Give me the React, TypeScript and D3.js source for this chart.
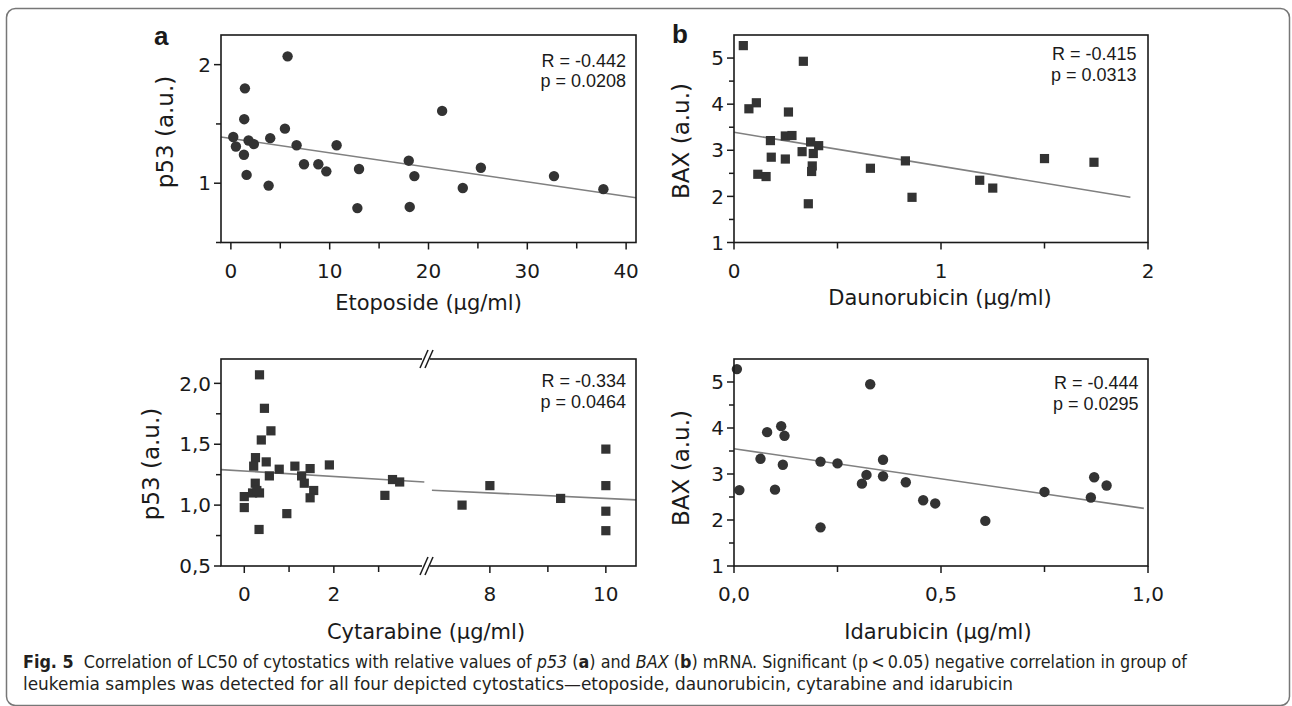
import React from 'react';
import * as d3 from 'd3';

// ---- data ----
// a: etoposide vs p53
const etoX = [5.74, 1.42, 1.35, 5.47, 0.24, 1.79, 3.98, 0.51, 2.33, 1.32, 6.65, 10.7, 1.59, 3.82, 7.4, 8.85, 9.66, 12.97, 12.8, 18.0, 18.57, 18.1, 21.38, 23.47, 25.3, 32.7, 37.7];
const etoP53 = [2.07, 1.8, 1.54, 1.46, 1.39, 1.36, 1.38, 1.31, 1.33, 1.24, 1.32, 1.32, 1.07, 0.98, 1.16, 1.16, 1.1, 1.12, 0.79, 1.19, 1.06, 0.8, 1.61, 0.96, 1.13, 1.06, 0.95];
// b: daunorubicin vs BAX
const dauX = [0.045, 0.335, 0.072, 0.108, 0.263, 0.176, 0.248, 0.28, 0.18, 0.248, 0.115, 0.155, 0.329, 0.37, 0.409, 0.383, 0.378, 0.375, 0.359, 0.659, 0.828, 0.86, 1.187, 1.25, 1.5, 1.739];
const dauBax = [5.27, 4.93, 3.9, 4.03, 3.83, 3.21, 3.31, 3.32, 2.85, 2.81, 2.48, 2.43, 2.97, 3.18, 3.1, 2.93, 2.66, 2.54, 1.84, 2.61, 2.77, 1.98, 2.35, 2.18, 2.82, 2.74];
// c: cytarabine vs p53 (broken x axis)
const cytX = [0.34, 0.45, 0.595, 0.38, 0.25, 0.21, 0.49, 0.78, 1.13, 1.47, 1.9, 0.56, 1.28, 1.34, 0.245, 1.55, 1.47, 0.0, 0.0, 0.185, 0.34, 0.28, 0.95, 0.33, 3.31, 3.47, 3.14, 7.52, 8.0, 9.22, 10, 10, 10, 10];
const cytP53 = [2.07, 1.795, 1.61, 1.535, 1.39, 1.32, 1.355, 1.295, 1.32, 1.3, 1.33, 1.24, 1.24, 1.18, 1.18, 1.12, 1.06, 1.07, 0.98, 1.1, 1.1, 1.12, 0.93, 0.8, 1.21, 1.19, 1.08, 1.0, 1.16, 1.055, 1.46, 1.16, 0.95, 0.79];
// d: idarubicin vs BAX
const idaX = [0.007, 0.013, 0.329, 0.08, 0.114, 0.122, 0.064, 0.118, 0.099, 0.209, 0.25, 0.209, 0.309, 0.32, 0.36, 0.36, 0.415, 0.457, 0.486, 0.607, 0.75, 0.862, 0.87, 0.9];
const idaBax = [5.28, 2.65, 4.95, 3.91, 4.04, 3.83, 3.33, 3.2, 2.66, 3.27, 3.23, 1.84, 2.79, 2.98, 3.31, 2.95, 2.82, 2.43, 2.36, 1.98, 2.61, 2.49, 2.93, 2.75];

// regression lines (intercept, slope) as drawn
const fitEto = [1.378, -0.0122];
const fitDau = [3.39, -0.736];
const fitCyt = [1.28, -0.0225];
const fitIda = [3.55, -1.31];

const statsEto = ['R = -0.442', 'p = 0.0208'];
const statsDau = ['R = -0.415', 'p = 0.0313'];
const statsCyt = ['R = -0.334', 'p = 0.0464'];
const statsIda = ['R = -0.444', 'p = 0.0295'];

const commaFmt = (d: number) => d3.format('.1f')(d).replace('.', ',');

const TICK_FONT = '"DejaVu Sans", sans-serif';
const ARIAL = '"Liberation Sans", Arial, sans-serif';
const INK = '#1a1a1a';
const MARK = '#333';

function Panel({ cfg }: { cfg: any }) {
  const { left, right, top, bottom } = cfg.box;
  const y = d3.scaleLinear().domain(cfg.yDomain).range([bottom, top]);
  const segs = cfg.xSegs.map((s: any) => ({ ...s, scale: d3.scaleLinear().domain(s.domain).range(s.range) }));
  const segOf = (v: number) => segs.find((s: any) => v >= s.domain[0] - 1e-9 && v <= s.domain[1] + 1e-9) || segs[0];
  const xOf = (v: number) => segOf(v).scale(v);

  const line = d3.line<number>().x(d => xOf(d)).y(d => y(cfg.fit[0] + cfg.fit[1] * d));

  return (
    <g>
      {/* fit line */}
      {cfg.fitRanges.map((r: number[], i: number) => (
        <path key={i} d={line(r) || ''} fill="none" stroke="#808080" strokeWidth={1.6} />
      ))}
      {/* points */}
      {cfg.xs.map((v: number, i: number) => {
        const cx = xOf(v), cy = y(cfg.ys[i]);
        return cfg.shape === 'circle'
          ? <circle key={i} cx={cx} cy={cy} r={5.2} fill={MARK} />
          : <rect key={i} x={cx - 4.6} y={cy - 4.6} width={9.2} height={9.2} fill={MARK} />;
      })}
      {/* frame */}
      <rect x={left} y={top} width={right - left} height={bottom - top} fill="none" stroke={INK} strokeWidth={1.6} />
      {/* y ticks */}
      {cfg.yMajor.map((t: number) => (
        <g key={'ym' + t}>
          <line x1={left - 7} x2={left} y1={y(t)} y2={y(t)} stroke={INK} strokeWidth={1.5} />
          <text x={left - 10} y={y(t)} dy="0.36em" textAnchor="end" fontFamily={TICK_FONT} fontSize={20} fill={INK}>
            {cfg.yFmt(t)}
          </text>
        </g>
      ))}
      {cfg.yMinor.map((t: number) => (
        <line key={'yn' + t} x1={left - 5} x2={left} y1={y(t)} y2={y(t)} stroke={INK} strokeWidth={1.5} />
      ))}
      {/* x ticks */}
      {segs.map((s: any, si: number) => (
        <g key={'s' + si}>
          {s.major.map((t: number) => (
            <g key={'xm' + t}>
              <line x1={s.scale(t)} x2={s.scale(t)} y1={bottom} y2={bottom + 7} stroke={INK} strokeWidth={1.5} />
              <text x={s.scale(t)} y={bottom + 35} textAnchor="middle" fontFamily={TICK_FONT} fontSize={20} fill={INK}>
                {cfg.xFmt(t)}
              </text>
            </g>
          ))}
          {s.minor.map((t: number) => (
            <line key={'xn' + t} x1={s.scale(t)} x2={s.scale(t)} y1={bottom} y2={bottom + 6} stroke={INK} strokeWidth={1.5} />
          ))}
        </g>
      ))}
      {/* axis break marks */}
      {cfg.breakAt && [top, bottom].map(by => (
        <g key={'br' + by}>
          <rect x={cfg.breakAt - 2} y={by - 2} width={8} height={4} fill="#fff" />
          <line x1={cfg.breakAt - 4} y1={by + 9} x2={cfg.breakAt + 4} y2={by - 9} stroke={INK} strokeWidth={1.5} />
          <line x1={cfg.breakAt + 1} y1={by + 9} x2={cfg.breakAt + 9} y2={by - 9} stroke={INK} strokeWidth={1.5} />
        </g>
      ))}
      {/* stats */}
      {cfg.stats.map((s: string, i: number) => (
        <text key={s} x={right - cfg.statsDx} y={top + cfg.statsDy + i * 20.5} textAnchor="end" fontFamily={ARIAL} fontSize={18} fill={INK}>
          {s}
        </text>
      ))}
      {/* axis titles */}
      <text x={cfg.xTitlePos[0]} y={cfg.xTitlePos[1]} textAnchor="middle" fontFamily={TICK_FONT} fontSize={21} fill={INK}>
        {cfg.xTitle}
      </text>
      <text transform={`translate(${cfg.yTitlePos[0]},${cfg.yTitlePos[1]}) rotate(-90)`} textAnchor="middle" fontFamily={TICK_FONT} fontSize={23} fill={INK}>
        {cfg.yTitle}
      </text>
      {cfg.letter && (
        <text x={cfg.letterPos[0]} y={cfg.letterPos[1]} fontFamily={ARIAL} fontWeight="bold" fontSize={26} fill={INK}>
          {cfg.letter}
        </text>
      )}
    </g>
  );
}

export default function App() {
  const panels = [
    {
      box: { left: 221, right: 636, top: 35, bottom: 242.5 },
      xSegs: [{ domain: [-1, 41], range: [221, 636], major: [0, 10, 20, 30, 40], minor: [5, 15, 25, 35] }],
      yDomain: [0.5, 2.25], yMajor: [1, 2], yMinor: [0.5, 1.5], yFmt: (d: number) => String(d), xFmt: (d: number) => String(d),
      xs: etoX, ys: etoP53, shape: 'circle', fit: fitEto, fitRanges: [[-1, 41]],
      stats: statsEto, statsDx: 10, statsDy: 31.7,
      xTitle: 'Etoposide (μg/ml)', xTitlePos: [428.5, 310], yTitle: 'p53 (a.u.)', yTitlePos: [173, 132],
      letter: 'a', letterPos: [154, 45],
    },
    {
      box: { left: 734, right: 1148, top: 35, bottom: 242.5 },
      xSegs: [{ domain: [0, 2], range: [734, 1148], major: [0, 1, 2], minor: [0.5, 1.5] }],
      yDomain: [1, 5.5], yMajor: [1, 2, 3, 4, 5], yMinor: [1.5, 2.5, 3.5, 4.5], yFmt: (d: number) => String(d), xFmt: (d: number) => String(d),
      xs: dauX, ys: dauBax, shape: 'square', fit: fitDau, fitRanges: [[0, 1.915]],
      stats: statsDau, statsDx: 11.5, statsDy: 25,
      xTitle: 'Daunorubicin (μg/ml)', xTitlePos: [940, 305], yTitle: 'BAX (a.u.)', yTitlePos: [689, 141],
      letter: 'b', letterPos: [672, 43],
    },
    {
      box: { left: 221, right: 636, top: 359, bottom: 566 },
      xSegs: [
        { domain: [-0.52, 4.02], range: [221, 424.3], major: [0, 2], minor: [1, 3] },
        { domain: [6.95, 10.52], range: [429, 636], major: [8, 10], minor: [9] },
      ],
      breakAt: 424,
      yDomain: [0.5, 2.2], yMajor: [0.5, 1, 1.5, 2], yMinor: [0.75, 1.25, 1.75], yFmt: commaFmt, xFmt: (d: number) => String(d),
      xs: cytX, ys: cytP53, shape: 'square', fit: fitCyt, fitRanges: [[-0.52, 4.02], [7.0, 10.52]],
      stats: statsCyt, statsDx: 10, statsDy: 28,
      xTitle: 'Cytarabine (μg/ml)', xTitlePos: [426, 639], yTitle: 'p53 (a.u.)', yTitlePos: [158.5, 464],
    },
    {
      box: { left: 734, right: 1148, top: 359, bottom: 566 },
      xSegs: [{ domain: [0, 1], range: [734, 1148], major: [0, 0.5, 1], minor: [0.25, 0.75] }],
      yDomain: [1, 5.5], yMajor: [1, 2, 3, 4, 5], yMinor: [1.5, 2.5, 3.5, 4.5], yFmt: (d: number) => String(d), xFmt: commaFmt,
      xs: idaX, ys: idaBax, shape: 'circle', fit: fitIda, fitRanges: [[0, 0.99]],
      stats: statsIda, statsDx: 9.5, statsDy: 30,
      xTitle: 'Idarubicin (μg/ml)', xTitlePos: [938, 639], yTitle: 'BAX (a.u.)', yTitlePos: [689, 468],
    },
  ];

  const capFont = '"Liberation Sans Narrow", "DejaVu Sans Condensed", "Liberation Sans", sans-serif';

  return (
    <div style={{ position: 'absolute', left: 0, top: 0 }}>
      <svg width={1292} height={706} style={{ display: 'block', background: '#fff' }}>
        <rect x={6.5} y={8.5} width={1283} height={697} rx={9} fill="none" stroke="#777" strokeWidth={1.5} />
        {panels.map((p, i) => <Panel key={i} cfg={p} />)}
        <text x={23} y={668} fontFamily={capFont} fontSize={17.5} fill="#231f20" textLength={1164} lengthAdjust="spacingAndGlyphs">
          <tspan fontWeight="bold">Fig. 5</tspan>
          {'\u00a0\u00a0Correlation of LC50 of cytostatics with relative values of '}
          <tspan fontStyle="italic">p53</tspan>{' ('}<tspan fontWeight="bold">a</tspan>{') and '}
          <tspan fontStyle="italic">BAX</tspan>{' ('}<tspan fontWeight="bold">b</tspan>
          {') mRNA. Significant (p\u2009<\u20090.05) negative correlation in group of'}
        </text>
        <text x={23} y={689.5} fontFamily={capFont} fontSize={17.5} fill="#231f20" textLength={990} lengthAdjust="spacingAndGlyphs">
          leukemia samples was detected for all four depicted cytostatics—etoposide, daunorubicin, cytarabine and idarubicin
        </text>
      </svg>
    </div>
  );
}
